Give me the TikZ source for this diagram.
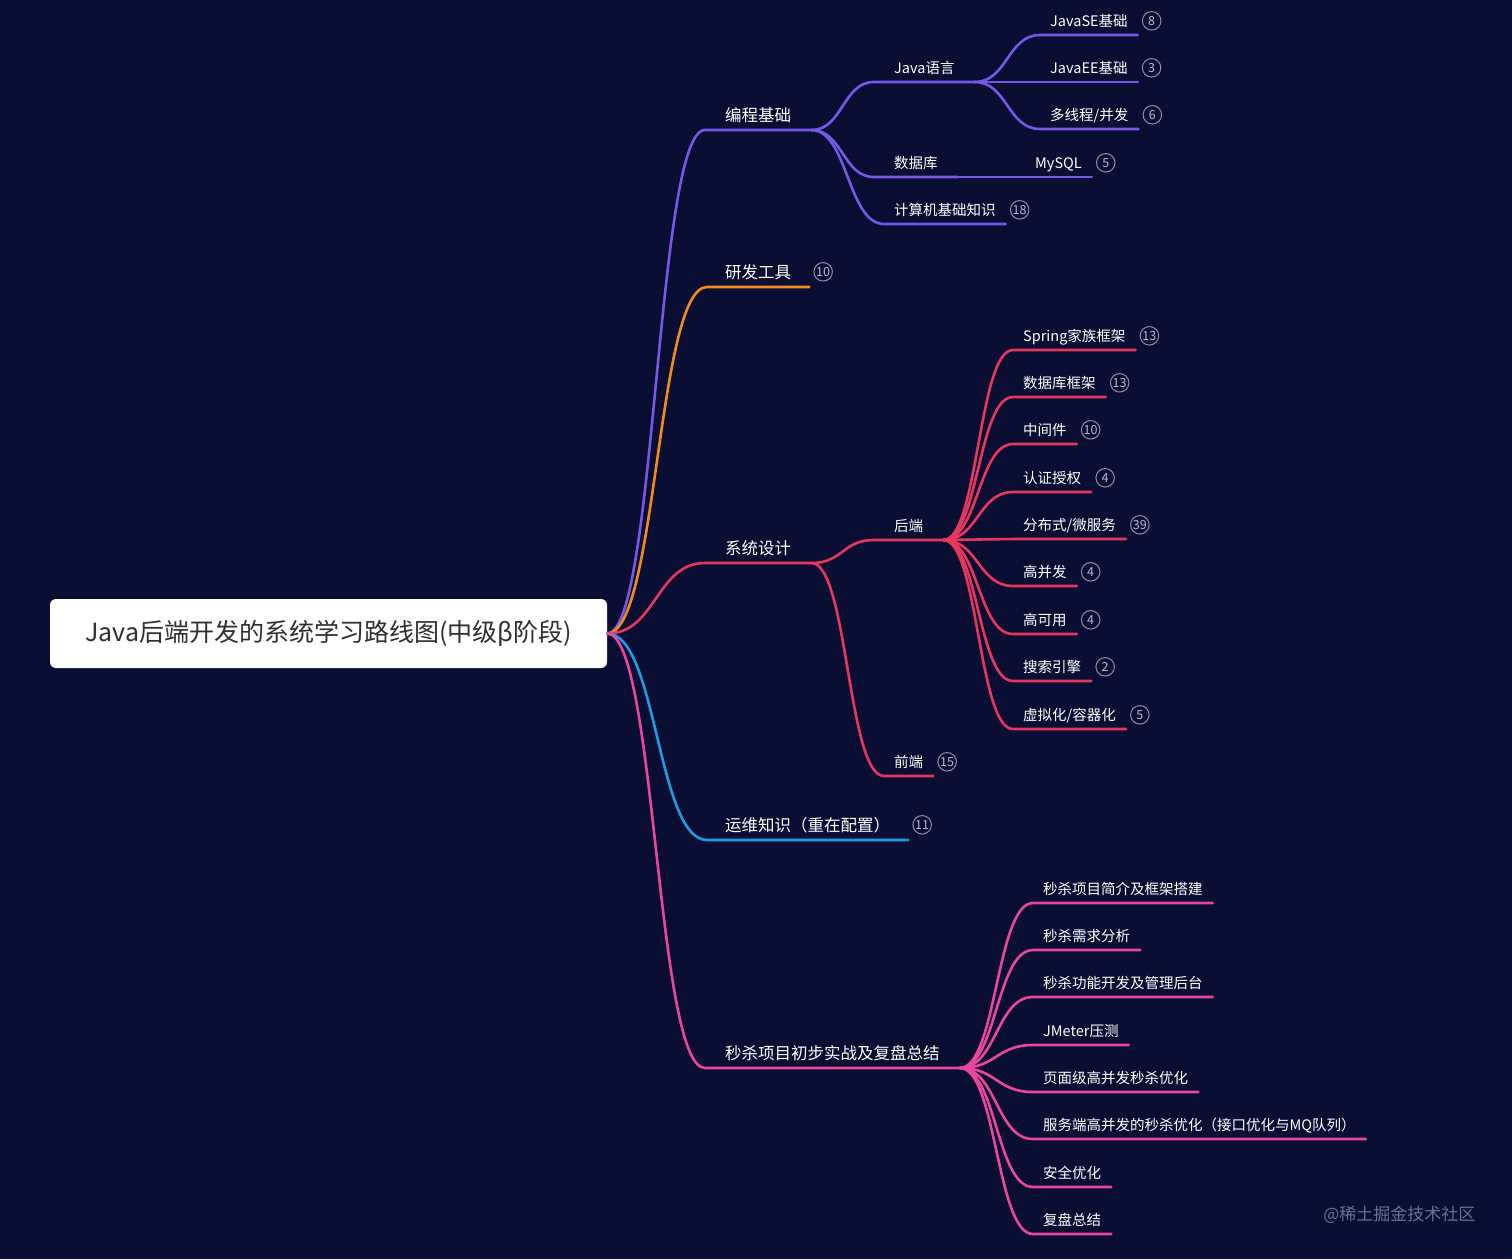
\documentclass[tikz,border=0pt]{standalone}
\usepackage{fontspec}
\setmainfont{Noto Sans CJK SC}
\usetikzlibrary{calc,positioning}
\definecolor{bgnavy}{HTML}{0A0E33}
\definecolor{bcpurple}{HTML}{7657E6}
\definecolor{yforange}{HTML}{F08C1E}
\definecolor{xtred}{HTML}{E8375E}
\definecolor{ywblue}{HTML}{1E9BE3}
\definecolor{mspink}{HTML}{E8479B}
\definecolor{badgegray}{HTML}{8E90A6}
\definecolor{wmgray}{HTML}{6C7090}
\definecolor{rootgray}{HTML}{2E2E33}
\tikzset{
	link/.style={to path={.. controls ($(\tikztostart)!.5!(\tikztotarget|-\tikztostart)$) and ($(\tikztostart|-\tikztotarget)!.5!(\tikztotarget)$) .. (\tikztotarget)}},
	branch/.style={line width=2.6pt,line cap=round,line join=round},
	bc/.style={branch,draw=bcpurple},
	yf/.style={branch,draw=yforange},
	xt/.style={branch,draw=xtred},
	yw/.style={branch,draw=ywblue},
	ms/.style={branch,draw=mspink},
	topic/.style={anchor=south west,text=white,font=\fontsize{16.5}{18}\selectfont,inner xsep=18pt,inner ysep=5.7pt,text height=15.6pt,text depth=3pt},
	sub/.style={anchor=south west,text=white,font=\fontsize{14.5}{16}\selectfont,inner xsep=10pt,inner ysep=5.5pt,text height=14pt,text depth=3pt},
	hub/.style={inner xsep=20pt},
	badge/.style={circle,draw=badgegray,line width=1pt,minimum size=18.5pt,inner sep=0pt,text=badgegray!60!white,font=\fontsize{12.5}{14}\selectfont}
}
\begin{document}
\begin{tikzpicture}[x=1pt,y=-1pt]
	\fill[bgnavy] (0,0) rectangle (1512,1259);
	\node[fill=white,rounded corners=6pt,minimum width=557pt,minimum height=69pt,text=rootgray,font=\fontsize{25}{29}\selectfont] (root) at (328.5,633.5) {Java后端开发的系统学习路线图(中级β阶段)};
	% first level
	\node[topic,hub] (bcjc) at (705,130) {编程基础};
	\node[topic] (yfgj) at (707,287) {研发工具};
	\node[topic,hub] (xtsj) at (705,563) {系统设计};
	\node[topic] (ywzs) at (707,840) {运维知识（重在配置）};
	\node[topic,hub] (msxm) at (705,1068) {秒杀项目初步实战及复盘总结};
	\node[badge,right=4pt of yfgj.east] (yfgjN) {10};
	\node[badge,right=4pt of ywzs.east] (ywzsN) {11};
	% 编程基础
	\node[sub,hub] (javayy) at (874,82) {Java语言};
	\node[sub] (javase) at (1040,35) {JavaSE基础};
	\node[sub] (javaee) at (1040,82) {JavaEE基础};
	\node[sub] (dxcbf) at (1040,129) {多线程/并发};
	\node[sub,hub] (sjk) at (874,177) {数据库};
	\node[sub] (mysql) at (1025,177) {MySQL};
	\node[sub] (jsjjc) at (884,224) {计算机基础知识};
	\node[badge,right=4pt of javase.east] (javaseN) {8};
	\node[badge,right=4pt of javaee.east] (javaeeN) {3};
	\node[badge,right=4pt of dxcbf.east] (dxcbfN) {6};
	\node[badge,right=4pt of mysql.east] (mysqlN) {5};
	\node[badge,right=4pt of jsjjc.east] (jsjjcN) {18};
	% 系统设计
	\node[sub,hub] (houd) at (874,540) {后端};
	\node[sub] (spring) at (1013,350) {Spring家族框架};
	\node[sub] (sjkkj) at (1013,397) {数据库框架};
	\node[sub] (zjj) at (1013,444) {中间件};
	\node[sub] (rzsq) at (1013,492) {认证授权};
	\node[sub] (fbs) at (1013,539) {分布式/微服务};
	\node[sub] (gbf) at (1013,586) {高并发};
	\node[sub] (gky) at (1013,634) {高可用};
	\node[sub] (ssyq) at (1013,681) {搜索引擎};
	\node[sub] (xnh) at (1013,729) {虚拟化/容器化};
	\node[sub] (qiand) at (884,776) {前端};
	\node[badge,right=4pt of spring.east] (springN) {13};
	\node[badge,right=4pt of sjkkj.east] (sjkkjN) {13};
	\node[badge,right=4pt of zjj.east] (zjjN) {10};
	\node[badge,right=4pt of rzsq.east] (rzsqN) {4};
	\node[badge,right=4pt of fbs.east] (fbsN) {39};
	\node[badge,right=4pt of gbf.east] (gbfN) {4};
	\node[badge,right=4pt of gky.east] (gkyN) {4};
	\node[badge,right=4pt of ssyq.east] (ssyqN) {2};
	\node[badge,right=4pt of xnh.east] (xnhN) {5};
	\node[badge,right=4pt of qiand.east] (qiandN) {15};
	% 秒杀项目
	\node[sub] (msjj) at (1033,903) {秒杀项目简介及框架搭建};
	\node[sub] (msxq) at (1033,950) {秒杀需求分析};
	\node[sub] (msgn) at (1033,997) {秒杀功能开发及管理后台};
	\node[sub] (jmeter) at (1033,1045) {JMeter压测};
	\node[sub] (ymj) at (1033,1092) {页面级高并发秒杀优化};
	\node[sub] (fwd) at (1033,1139) {服务端高并发的秒杀优化（接口优化与MQ队列）};
	\node[sub] (aqyh) at (1033,1187) {安全优化};
	\node[sub] (fpzj) at (1033,1234) {复盘总结};
	\node[text=wmgray,font=\fontsize{17}{20}\selectfont,anchor=east] (wm) at (1479,1215) {@稀土掘金技术社区};
	% connectors
	\draw[bc] (root.east) to[link] (bcjc.south west) -- (bcjc.south east);
	\draw[yf] (root.east) to[link] (yfgj.south west) -- (yfgj.south east);
	\draw[xt] (root.east) to[link] (xtsj.south west) -- (xtsj.south east);
	\draw[yw] (root.east) to[link] (ywzs.south west) -- (ywzs.south east);
	\draw[ms] (root.east) to[link] (msxm.south west) -- (msxm.south east);
	\draw[bc] (bcjc.south east) to[link] (javayy.south west) -- (javayy.south east);
	\draw[bc] (bcjc.south east) to[link] (sjk.south west) -- (sjk.south east);
	\draw[bc] (bcjc.south east) to[link] (jsjjc.south west) -- (jsjjc.south east);
	\draw[bc] (javayy.south east) to[link] (javase.south west) -- (javase.south east);
	\draw[bc] (javayy.south east) to[link] (javaee.south west) -- (javaee.south east);
	\draw[bc] (javayy.south east) to[link] (dxcbf.south west) -- (dxcbf.south east);
	\draw[bc] (sjk.south east) to[link] (mysql.south west) -- (mysql.south east);
	\draw[xt] (xtsj.south east) to[link] (houd.south west) -- (houd.south east);
	\draw[xt] (xtsj.south east) to[link] (qiand.south west) -- (qiand.south east);
	\draw[xt] (houd.south east) to[link] (spring.south west) -- (spring.south east);
	\draw[xt] (houd.south east) to[link] (sjkkj.south west) -- (sjkkj.south east);
	\draw[xt] (houd.south east) to[link] (zjj.south west) -- (zjj.south east);
	\draw[xt] (houd.south east) to[link] (rzsq.south west) -- (rzsq.south east);
	\draw[xt] (houd.south east) to[link] (fbs.south west) -- (fbs.south east);
	\draw[xt] (houd.south east) to[link] (gbf.south west) -- (gbf.south east);
	\draw[xt] (houd.south east) to[link] (gky.south west) -- (gky.south east);
	\draw[xt] (houd.south east) to[link] (ssyq.south west) -- (ssyq.south east);
	\draw[xt] (houd.south east) to[link] (xnh.south west) -- (xnh.south east);
	\draw[ms] (msxm.south east) to[link] (msjj.south west) -- (msjj.south east);
	\draw[ms] (msxm.south east) to[link] (msxq.south west) -- (msxq.south east);
	\draw[ms] (msxm.south east) to[link] (msgn.south west) -- (msgn.south east);
	\draw[ms] (msxm.south east) to[link] (jmeter.south west) -- (jmeter.south east);
	\draw[ms] (msxm.south east) to[link] (ymj.south west) -- (ymj.south east);
	\draw[ms] (msxm.south east) to[link] (fwd.south west) -- (fwd.south east);
	\draw[ms] (msxm.south east) to[link] (aqyh.south west) -- (aqyh.south east);
	\draw[ms] (msxm.south east) to[link] (fpzj.south west) -- (fpzj.south east);
\end{tikzpicture}
\end{document}
